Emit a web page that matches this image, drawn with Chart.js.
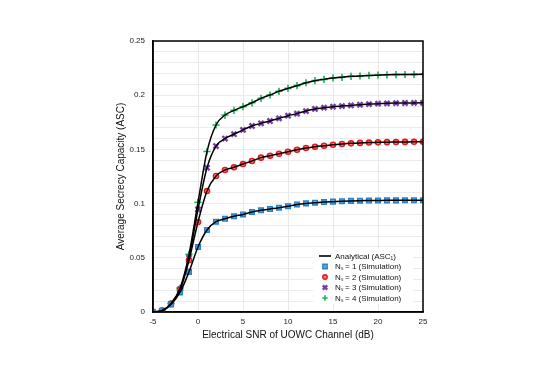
<!DOCTYPE html>
<html>
<head>
<meta charset="utf-8">
<script src="https://cdn.jsdelivr.net/npm/chart.js@4.4.1/dist/chart.umd.min.js"></script>
<style>
  html, body { margin: 0; padding: 0; background: #fff; }
  #wrap { width: 540px; height: 382px; }
</style>
</head>
<body>
<div id="wrap"><canvas id="asc-chart" width="540" height="382"></canvas></div>
<script>
// electrical SNR (dB)
const snr = [-5, -4, -3, -2, -1, 0, 1, 2, 3, 4, 5, 6, 7, 8, 9, 10, 11, 12, 13, 14, 15, 16, 17, 18, 19, 20, 21, 22, 23, 24, 25];

// ASC values
const ns1 = [0, 0.0012, 0.007, 0.018, 0.037, 0.060, 0.0757, 0.0833, 0.086, 0.0883, 0.090, 0.0923, 0.0938, 0.095, 0.0962, 0.0976, 0.0992, 0.1002, 0.1008, 0.1014, 0.1018, 0.1022, 0.1025, 0.1027, 0.1028, 0.1029, 0.103, 0.103, 0.1031, 0.1031, 0.1031];
const ns2 = [0, 0.0012, 0.0075, 0.0203, 0.0477, 0.083, 0.1116, 0.1255, 0.131, 0.1335, 0.1365, 0.1393, 0.1424, 0.1442, 0.146, 0.1479, 0.1497, 0.1513, 0.1525, 0.1534, 0.1543, 0.155, 0.1556, 0.156, 0.1563, 0.1565, 0.1567, 0.1568, 0.1569, 0.157, 0.157];
const ns3 = [0, 0.0012, 0.0075, 0.021, 0.050, 0.0947, 0.1331, 0.1531, 0.160, 0.164, 0.168, 0.1716, 0.1741, 0.1762, 0.1786, 0.1811, 0.183, 0.1854, 0.1873, 0.1885, 0.1894, 0.190, 0.1906, 0.1912, 0.1918, 0.1922, 0.1925, 0.1927, 0.1928, 0.1929, 0.193];
const ns4 = [0, 0.0012, 0.0078, 0.0218, 0.0532, 0.1012, 0.148, 0.1725, 0.1817, 0.186, 0.1894, 0.193, 0.1971, 0.2002, 0.2036, 0.2063, 0.2088, 0.2115, 0.2134, 0.2146, 0.2159, 0.2165, 0.2174, 0.2177, 0.2182, 0.2185, 0.2188, 0.219, 0.2191, 0.2192, 0.2193];

const yTickLabels = ["0", "0.05", "0.1", "0.15", "0.2", "0.25"];

const FONT = "'Liberation Sans', Arial, Helvetica, sans-serif";

const pts = ys => snr.map((x, i) => ({ x: x, y: ys[i] }));

const analytic = ys => ({
  label: "Analytical (ASC\u2081)",
  data: pts(ys),
  showLine: true,
  borderColor: "#000",
  borderWidth: 1.5,
  pointRadius: 0,
  cubicInterpolationMode: "monotone",
  order: 0,
  legendKind: "line"
});

const sim = (ys, label, style, stroke, fill, r, bw) => ({
  label: label,
  data: pts(ys),
  showLine: false,
  pointStyle: style,
  pointRadius: r,
  pointBorderWidth: bw,
  borderColor: stroke,
  backgroundColor: fill,
  order: 1,
  legendKind: "point"
});

const datasets = [
  analytic(ns1), analytic(ns2), analytic(ns3), analytic(ns4),
  sim(ns1, "N\u209B = 1 (Simulation)", "rect", "#2a80cc", "#5fa8de", 3.3, 1.4),
  sim(ns2, "N\u209B = 2 (Simulation)", "circle", "#e8161c", "#f57a7a", 2.6, 1.4),
  sim(ns3, "N\u209B = 3 (Simulation)", "crossRot", "#7a3ea8", "#7a3ea8", 3.6, 2.4),
  sim(ns4, "N\u209B = 4 (Simulation)", "cross", "#1fb25a", "#1fb25a", 3.6, 1.6)
];

// draws the frame on top/right and an in-plot legend box
const framePlugin = {
  id: "frameAndLegend",
  afterDraw(chart) {
    const { ctx, chartArea: a } = chart;
    ctx.save();
    // legend box
    const lx = 313, ly = 248, lw = 100, lh = 56;
    ctx.fillStyle = "#fff";
    ctx.fillRect(lx, ly, lw, lh);
    const items = [datasets[0], datasets[4], datasets[5], datasets[6], datasets[7]];
    ctx.font = "8px " + FONT;
    ctx.textBaseline = "middle";
    items.forEach((d, i) => {
      const y = 256 + i * 10.5;
      const mx = 325;
      if (d.legendKind === "line") {
        ctx.strokeStyle = "#000";
        ctx.lineWidth = 1.6;
        ctx.beginPath();
        ctx.moveTo(319, y);
        ctx.lineTo(331, y);
        ctx.stroke();
      } else {
        ctx.strokeStyle = d.borderColor;
        ctx.fillStyle = d.backgroundColor;
        ctx.lineWidth = d.pointBorderWidth;
        const r = 2.2;
        ctx.beginPath();
        if (d.pointStyle === "rect") {
          ctx.rect(mx - r, y - r, 2 * r, 2 * r);
          ctx.fill(); ctx.stroke();
        } else if (d.pointStyle === "circle") {
          ctx.arc(mx, y, r, 0, Math.PI * 2);
          ctx.fill(); ctx.stroke();
        } else if (d.pointStyle === "crossRot") {
          ctx.moveTo(mx - r, y - r); ctx.lineTo(mx + r, y + r);
          ctx.moveTo(mx + r, y - r); ctx.lineTo(mx - r, y + r);
          ctx.stroke();
        } else {
          ctx.moveTo(mx - r - 0.5, y); ctx.lineTo(mx + r + 0.5, y);
          ctx.moveTo(mx, y - r - 0.5); ctx.lineTo(mx, y + r + 0.5);
          ctx.stroke();
        }
      }
      ctx.fillStyle = "#111";
      ctx.textAlign = "left";
      ctx.fillText(d.label, 335, y + 0.5);
    });
    // frame
    ctx.strokeStyle = "#000";
    ctx.lineWidth = 1.5;
    ctx.strokeRect(a.left, a.top, a.right - a.left, a.bottom - a.top);
    ctx.restore();
  }
};

new Chart(document.getElementById("asc-chart").getContext("2d"), {
  type: "scatter",
  data: { datasets: datasets },
  options: {
    responsive: false,
    animation: false,
    layout: { padding: { left: 113, right: 117, top: 41, bottom: 38 } },
    plugins: {
      legend: { display: false },
      tooltip: { enabled: false }
    },
    scales: {
      x: {
        type: "linear",
        min: -5,
        max: 25,
        afterFit: s => { s.height = 32; },
        ticks: { stepSize: 5, color: "#222", padding: 5, font: { size: 8, family: FONT } },
        grid: { color: "#e8e8e8", lineWidth: 1, drawTicks: false },
        border: { color: "#000", width: 1.5 },
        title: { display: true, text: "Electrical SNR of UOWC Channel (dB)", color: "#111", padding: { top: 0, bottom: 3 }, font: { size: 10, family: FONT } }
      },
      y: {
        min: 0,
        max: 0.25,
        afterFit: s => { s.width = 40; },
        ticks: {
          stepSize: 0.01,
          autoSkip: false,
          color: "#222",
          padding: 8,
          font: { size: 8, family: FONT },
          callback: v => {
            const k = Math.round(v * 100);
            return k % 5 === 0 ? yTickLabels[k / 5] : "";
          }
        },
        grid: { color: "#ebebeb", lineWidth: 1, drawTicks: false },
        border: { color: "#000", width: 1.5 },
        title: { display: true, text: "Average Secrecy Capacity (ASC)", color: "#111", padding: { top: 2, bottom: 0 }, font: { size: 10, family: FONT } }
      }
    }
  },
  plugins: [framePlugin]
});
</script>
</body>
</html>
